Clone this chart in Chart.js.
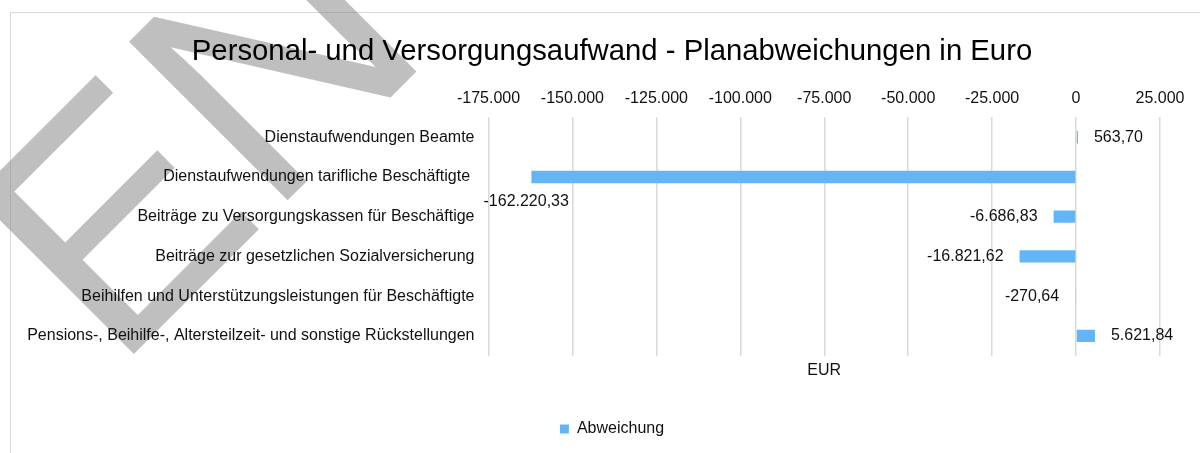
<!DOCTYPE html>
<html>
<head>
<meta charset="utf-8">
<title>Personal- und Versorgungsaufwand</title>
<script src="https://cdn.jsdelivr.net/npm/chart.js@4/dist/chart.umd.min.js"></script>
<style>
  html, body { margin: 0; padding: 0; background: #fff; }
  #wrap { width: 1200px; height: 453px; }
</style>
</head>
<body>
<div id="wrap"><canvas id="c" width="1200" height="453"></canvas></div>
<script>
// ---- data ----
const categories = [
  'Dienstaufwendungen Beamte',
  'Dienstaufwendungen tarifliche Beschäftigte ',
  'Beiträge zu Versorgungskassen für Beschäftige',
  'Beiträge zur gesetzlichen Sozialversicherung',
  'Beihilfen und Unterstützungsleistungen für Beschäftigte',
  'Pensions-, Beihilfe-, Altersteilzeit- und sonstige Rückstellungen'
];
const deviations = [563.70, -162220.33, -6686.83, -16821.62, -270.64, 5621.84];
const seriesName = 'Abweichung';
const axisTicks = [-175000, -150000, -125000, -100000, -75000, -50000, -25000, 0, 25000];
const chartTitle = 'Personal- und Versorgungsaufwand - Planabweichungen in Euro';
const axisTitle = 'EUR';
const watermarkText = 'ENTWURF';

// ---- helpers ----
const FONT = "'Liberation Sans', Arial, Helvetica, sans-serif";
const TEXT = '#111111';

// German number format: '.' thousands, ',' decimals
function fmtDE(v, decimals) {
  const neg = v < 0;
  const parts = Math.abs(v).toFixed(decimals).split('.');
  const int = parts[0].replace(/\B(?=(\d{3})+(?!\d))/g, '.');
  return (neg ? '-' : '') + int + (parts[1] ? ',' + parts[1] : '');
}

// white page, chart frame and the diagonal draft stamp behind everything
const backdrop = {
  id: 'backdrop',
  beforeDraw(chart) {
    const ctx = chart.ctx;
    ctx.save();
    ctx.fillStyle = '#ffffff';
    ctx.fillRect(0, 0, chart.width, chart.height);
    ctx.strokeStyle = '#d9d9d9';
    ctx.lineWidth = 1;
    ctx.strokeRect(10.5, 12.5, chart.width + 40, chart.height + 40);
    ctx.translate(115, 373);
    ctx.rotate(-45 * Math.PI / 180);
    ctx.font = '326px ' + FONT;
    ctx.textAlign = 'left';
    ctx.textBaseline = 'alphabetic';
    ctx.fillStyle = 'rgba(128,128,128,0.5)';
    ctx.fillText(watermarkText, 0, 0);
    ctx.restore();
  }
};

// value labels next to each bar end
const valueLabels = {
  id: 'valueLabels',
  afterDatasetsDraw(chart) {
    const { ctx, chartArea } = chart;
    const meta = chart.getDatasetMeta(0);
    const values = chart.data.datasets[0].data;
    const gap = 16;
    ctx.save();
    ctx.font = '16px ' + FONT;
    ctx.fillStyle = TEXT;
    ctx.textBaseline = 'middle';
    meta.data.forEach((bar, i) => {
      const v = values[i];
      const text = fmtDE(v, 2);
      const w = ctx.measureText(text).width;
      if (v >= 0) {
        ctx.textAlign = 'left';
        ctx.fillText(text, bar.x + gap, bar.y);
      } else if (bar.x - gap - w >= chartArea.left) {
        ctx.textAlign = 'right';
        ctx.fillText(text, bar.x - gap, bar.y);
      } else {
        // no room left of the bar: put it underneath
        ctx.textAlign = 'left';
        ctx.fillText(text, chartArea.left - 5, bar.y + 25);
      }
    });
    ctx.restore();
  }
};

Chart.defaults.font.family = FONT;
Chart.defaults.font.size = 16;
Chart.defaults.color = TEXT;

const xMin = axisTicks[0];
const xMax = axisTicks[axisTicks.length - 1];

new Chart(document.getElementById('c'), {
  type: 'bar',
  data: {
    labels: categories,
    datasets: [{
      label: seriesName,
      data: deviations,
      backgroundColor: '#64B5F6',
      borderWidth: 0,
      categoryPercentage: 0.62,
      barPercentage: 0.5,
      xAxisID: 'x',
      yAxisID: 'y'
    }]
  },
  options: {
    indexAxis: 'y',
    responsive: false,
    animation: false,
    devicePixelRatio: 1,
    layout: { padding: { left: 24, right: 0, top: 12, bottom: 6 } },
    plugins: {
      title: {
        display: true,
        text: chartTitle,
        color: '#000',
        font: { size: 29.3, weight: 'normal' },
        padding: { top: 22, bottom: 11 }
      },
      legend: {
        position: 'bottom',
        labels: { boxWidth: 9, boxHeight: 9, padding: 10, color: TEXT, font: { size: 16 } }
      },
      tooltip: { enabled: false }
    },
    scales: {
      x: {
        type: 'linear',
        position: 'top',
        min: xMin,
        max: xMax,
        afterBuildTicks: s => { s.ticks = axisTicks.map(v => ({ value: v })); },
        afterFit: s => { s.paddingRight = 40; },
        grid: { color: '#d9d9d9', lineWidth: 1.5, drawTicks: false },
        border: { display: false },
        ticks: { padding: 9, maxRotation: 0, autoSkip: false, callback: v => fmtDE(v, 0) }
      },
      x2: {
        type: 'linear',
        position: 'bottom',
        min: xMin,
        max: xMax,
        grid: { display: false, drawTicks: false },
        border: { display: false },
        ticks: { display: false },
        title: { display: true, text: axisTitle, color: TEXT, font: { size: 16 }, padding: { top: 5, bottom: 31 } }
      },
      y: {
        afterFit: s => { s.width = 464.5; },
        grid: { display: false, drawTicks: false },
        border: { display: false },
        ticks: { padding: 14, autoSkip: false }
      }
    }
  },
  plugins: [backdrop, valueLabels]
});
</script>
</body>
</html>
